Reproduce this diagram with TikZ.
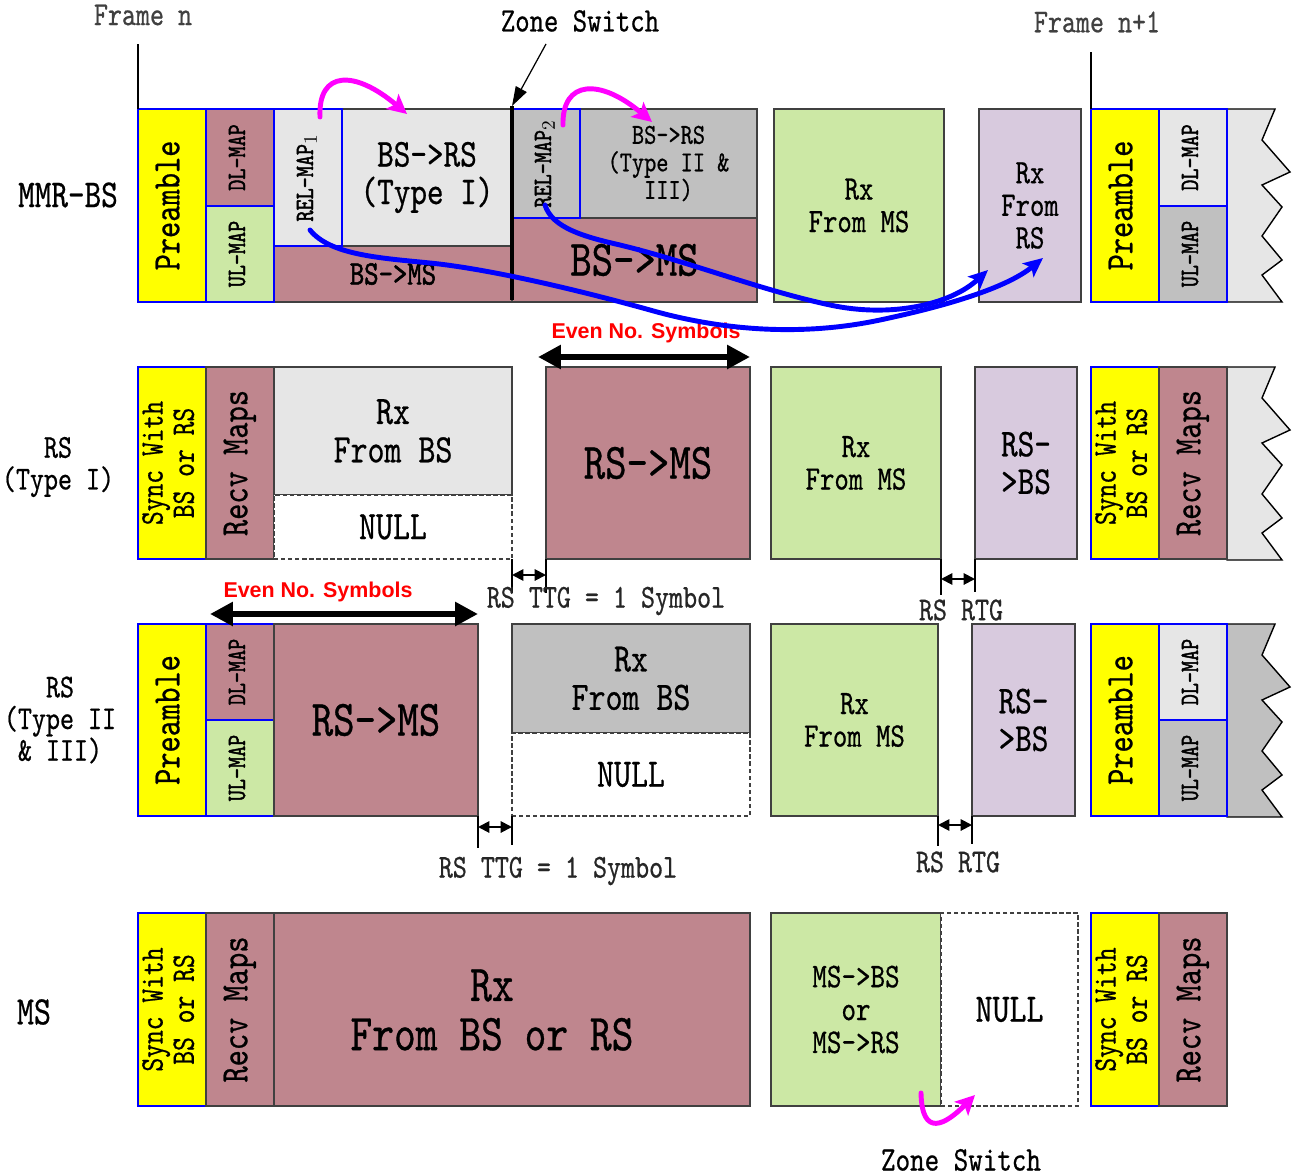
\documentclass[tikz,border=0pt]{standalone}
\usepackage{fontspec}
\usepackage{graphicx}
\setmainfont{lmmono10-regular.otf}[FakeStretch=0.8,FakeBold=0.6]
\newfontfamily\heavy{lmmono10-regular.otf}[FakeStretch=0.8,FakeBold=1.6]
\newfontfamily\arialfont{Liberation Sans}
\usetikzlibrary{arrows.meta}
\definecolor{mauve}{RGB}{191,134,142}
\definecolor{lgreen}{RGB}{204,232,165}
\definecolor{lgray}{RGB}{230,230,230}
\definecolor{mgray}{RGB}{192,192,192}
\definecolor{lilac}{RGB}{216,202,222}
\definecolor{bord}{RGB}{64,64,64}
\definecolor{yel}{RGB}{255,255,0}
\definecolor{mag}{RGB}{255,0,255}
\definecolor{blu}{RGB}{0,0,255}
\newcommand\fz[1]{\fontsize{#1}{\fpeval{0.95*#1}}\selectfont}
\newcommand\vt[1]{\rotatebox{90}{\begin{tabular}{@{}c@{}}#1\end{tabular}}}
\newcommand\bx[7]{\node[box,#6,minimum width={(#4-#2)*0.02cm},minimum height={(#5-#3)*0.02cm}] (#1) at ({(#2+#4)/2},{(#3+#5)/2}) {#7};}
\newcommand\zig[2]{\draw[fill=#2,draw=black,line width=0.8pt] (1227,#1) -- (1275,#1) -- (1262,#1+31) -- (1290,#1+63) -- (1262,#1+76) -- (1282,#1+98) -- (1262,#1+127) -- (1282,#1+151) -- (1262,#1+166) -- (1282,#1+193) -- (1227,#1+193) -- cycle;}
\begin{document}
\begin{tikzpicture}[x=0.02cm,y=-0.02cm,
  box/.style={draw=bord,line width=0.6pt,inner sep=0pt,outer sep=0pt,align=center,text=black},
  bl/.style={draw=blu},
  nul/.style={draw=bord,dash pattern=on 2.5pt off 1.5pt,fill=white},
  lab/.style={inner sep=0pt,align=center,text=black},
  even/.style={inner sep=0pt,text=red,font=\arialfont\bfseries\fontsize{12.2}{12.2}\selectfont},
  bigdbl/.style={line width=3.5pt,{Triangle[length=13pt,width=13pt]}-{Triangle[length=13pt,width=13pt]}},
  smalldbl/.style={line width=1.1pt,{Triangle[length=6.5pt,width=6.5pt]}-{Triangle[length=6.5pt,width=6.5pt]}},
  tick/.style={line width=0.8pt,black},
  magarrow/.style={mag,line width=2.8pt,line cap=round,-{Stealth[length=11pt,width=11pt,inset=2.5pt]}},
  bluearrow/.style={blu,line width=2.8pt,line cap=round,-{Stealth[length=11pt,width=10pt,inset=2.5pt]}}]
\fill[white] (0,0) rectangle (1292,1176);
\useasboundingbox (0,0) rectangle (1292,1176);

% ---------- labels on the left ----------
\node[lab,font=\fz{22.5}] (lmmr) at (68,195) {MMR-BS};
\node[lab,font=\fz{19}] (lrs1) at (58,467) {RS\\(Type I)};
\node[lab,font=\fz{19}] (lrs2) at (60,720) {RS\\(Type II\\\& III)};
\node[lab,font=\fz{23}] (lms) at (34,1012) {MS};

% ---------- row 1: MMR-BS ----------
\bx{bsms1}{274}{246}{512}{302}{fill=mauve,font=\heavy\fz{19.5}}{BS->MS}
\bx{bsrs1}{342}{109}{512}{246}{fill=lgray,font=\fz{22.5}}{BS->RS\\(Type I)}
\bx{bsmsb}{512}{218}{757}{302}{fill=mauve,font=\fz{29}}{BS->MS}
\bx{bsrs2}{580}{109}{757}{218}{fill=mgray,font=\fz{16.5}}{BS->RS\\(Type II \&\\III)}
\bx{pre1}{138}{109}{206}{302}{fill=yel,bl,font=\fz{22}}{\vt{Preamble}}
\bx{dl1}{206}{109}{274}{206}{fill=mauve,bl,font=\heavy\fz{15}}{\vt{DL-MAP}}
\bx{ul1}{206}{206}{274}{302}{fill=lgreen,bl,font=\heavy\fz{15}}{\vt{UL-MAP}}
\bx{rel1}{274}{109}{342}{246}{fill=lgray,bl,font=\heavy\fz{15}}{\vt{REL-MAP$_1$}}
\bx{rel2}{512}{109}{580}{218}{fill=mgray,bl,font=\heavy\fz{15}}{\vt{REL-MAP$_2$}}
\bx{rxms1}{774}{109}{944}{302}{fill=lgreen,font=\fz{19.5}}{Rx\\From MS}
\bx{rxrs1}{979}{109}{1081}{302}{fill=lilac,font=\fz{19.5}}{Rx\\From\\RS}
\zig{109}{lgray}
\bx{pre1r}{1091}{109}{1159}{302}{fill=yel,bl,font=\fz{22}}{\vt{Preamble}}
\bx{dl1r}{1159}{109}{1227}{206}{fill=lgray,bl,font=\heavy\fz{15}}{\vt{DL-MAP}}
\bx{ul1r}{1159}{206}{1227}{302}{fill=mgray,bl,font=\heavy\fz{15}}{\vt{UL-MAP}}

% frame markers
\node[lab,text=black!75,font=\fz{19}] (fn) at (143,15) {Frame n};
\node[lab,text=black!75,font=\fz{19}] (fn1) at (1097,22) {Frame n+1};
\draw[tick] (pre1.north west) -- ++(0,-65);
\draw[tick] (pre1r.north west) -- ++(0,-57);

% zone switch (top)
\node[lab,font=\fz{19.5}] (zst) at (580,21) {Zone Switch};
\coordinate (zs) at (512,106);
\coordinate (zsb) at (512,300);
\coordinate (zsa) at (546,44);
\draw[line width=2.8pt] (zs) -- (zsb);
\draw[line width=0.7pt,-{Triangle[length=11pt,width=7pt]}] (zsa) -- (zs);

% ---------- row 2: RS (Type I) ----------
\bx{sy2}{138}{367}{206}{559}{fill=yel,bl,font=\fz{18.7}}{\vt{Sync With\\BS or RS}}
\bx{rm2}{206}{367}{274}{559}{fill=mauve,font=\fz{22}}{\vt{Recv Maps}}
\bx{rxbs2}{274}{367}{512}{495}{fill=lgray,font=\fz{23}}{Rx\\From BS}
\bx{nul2}{274}{495}{512}{559}{nul,font=\fz{23}}{NULL}
\bx{rsms2}{546}{367}{750}{559}{fill=mauve,font=\fz{29}}{RS->MS}
\bx{rxms2}{771}{367}{941}{559}{fill=lgreen,font=\fz{19.5}}{Rx\\From MS}
\bx{rsbs2}{975}{367}{1077}{559}{fill=lilac,font=\fz{22.5}}{RS-\\>BS}
\zig{367}{lgray}
\bx{sy2r}{1091}{367}{1159}{559}{fill=yel,bl,font=\fz{18.7}}{\vt{Sync With\\BS or RS}}
\bx{rm2r}{1159}{367}{1227}{559}{fill=mauve,font=\fz{22}}{\vt{Recv Maps}}

% ---------- row 3: RS (Type II & III) ----------
\bx{pre3}{138}{624}{206}{816}{fill=yel,bl,font=\fz{22}}{\vt{Preamble}}
\bx{dl3}{206}{624}{274}{720}{fill=mauve,bl,font=\heavy\fz{15}}{\vt{DL-MAP}}
\bx{ul3}{206}{720}{274}{816}{fill=lgreen,bl,font=\heavy\fz{15}}{\vt{UL-MAP}}
\bx{rsms3}{274}{624}{478}{816}{fill=mauve,font=\fz{29}}{RS->MS}
\bx{rxbs3}{512}{624}{750}{733}{fill=mgray,font=\fz{23}}{Rx\\From BS}
\bx{nul3}{512}{733}{750}{816}{nul,font=\fz{23}}{NULL}
\bx{rxms3}{771}{624}{938}{816}{fill=lgreen,font=\fz{19.5}}{Rx\\From MS}
\bx{rsbs3}{972}{624}{1075}{816}{fill=lilac,font=\fz{22.5}}{RS-\\>BS}
\zig{624}{mgray}
\bx{pre3r}{1091}{624}{1159}{816}{fill=yel,bl,font=\fz{22}}{\vt{Preamble}}
\bx{dl3r}{1159}{624}{1227}{720}{fill=lgray,bl,font=\heavy\fz{15}}{\vt{DL-MAP}}
\bx{ul3r}{1159}{720}{1227}{816}{fill=mgray,bl,font=\heavy\fz{15}}{\vt{UL-MAP}}

% ---------- row 4: MS ----------
\bx{sy4}{138}{913}{206}{1106}{fill=yel,bl,font=\fz{18.7}}{\vt{Sync With\\BS or RS}}
\bx{rm4}{206}{913}{274}{1106}{fill=mauve,font=\fz{22}}{\vt{Recv Maps}}
\bx{rx4}{274}{913}{750}{1106}{fill=mauve}{}
\node[lab,font=\fz{29.5}] (rx4t) at (492,1010) {Rx\\From BS or RS};
\bx{ms4}{771}{913}{941}{1106}{fill=lgreen,font=\fz{19.7}}{MS->BS\\or\\MS->RS}
\bx{nul4}{941}{913}{1078}{1106}{nul,font=\fz{23}}{NULL}
\bx{sy4r}{1091}{913}{1159}{1106}{fill=yel,bl,font=\fz{18.7}}{\vt{Sync With\\BS or RS}}
\bx{rm4r}{1159}{913}{1227}{1106}{fill=mauve,font=\fz{22}}{\vt{Recv Maps}}

% ---------- even no. symbols ----------
\node[even] (ev2) at (646,333) {Even No. Symbols};
\coordinate (e2a) at (538,357);
\coordinate (e2b) at (750,357);
\draw[bigdbl] (e2a) -- (e2b);
\node[even] (ev3) at (318,592) {Even No. Symbols};
\coordinate (e3a) at (210,614);
\coordinate (e3b) at (478,614);
\draw[bigdbl] (e3a) -- (e3b);

% ---------- TTG / RTG markers ----------
\draw[tick] (nul2.south east) -- ++(0,34);
\draw[tick] (rsms2.south west) -- ++(0,34);
\coordinate (t2a) at (512,575);
\coordinate (t2b) at (546,575);
\draw[smalldbl] (t2a) -- (t2b);
\node[lab,text=black!85,font=\fz{19}] (ttg2) at (606,601) {RS TTG = 1 Symbol};

\draw[tick] (rxms2.south east) -- ++(0,36);
\draw[tick] (rsbs2.south west) -- ++(0,33);
\coordinate (r2a) at (941,579);
\coordinate (r2b) at (975,579);
\draw[smalldbl] (r2a) -- (r2b);
\node[lab,text=black!85,font=\fz{19}] (rtg2) at (961,610) {RS RTG};

\draw[tick] (rsms3.south east) -- ++(0,32);
\draw[tick] (nul3.south west) -- ++(0,29);
\coordinate (t3a) at (478,827);
\coordinate (t3b) at (512,827);
\draw[smalldbl] (t3a) -- (t3b);
\node[lab,text=black!85,font=\fz{19}] (ttg3) at (558,871) {RS TTG = 1 Symbol};

\draw[tick] (rxms3.south east) -- ++(0,30);
\draw[tick] (rsbs3.south west) -- ++(0,28);
\coordinate (r3a) at (938,825);
\coordinate (r3b) at (972,825);
\draw[smalldbl] (r3a) -- (r3b);
\node[lab,text=black!85,font=\fz{19}] (rtg3) at (958,862) {RS RTG};

% ---------- magenta arrows ----------
\coordinate (m1s) at (320,117);
\coordinate (m1e) at (407,114);
\draw[magarrow] (m1s) .. controls (318,70) and (355,70) .. (m1e);
\coordinate (m2s) at (563,125);
\coordinate (m2e) at (652,122);
\draw[magarrow] (m2s) .. controls (562,80) and (600,78) .. (m2e);
\coordinate (m3s) at (921,1093);
\coordinate (m3e) at (975,1095);
\draw[magarrow] (m3s) .. controls (922,1138) and (945,1125) .. (m3e);
\node[lab,font=\fz{19.7}] (zsb2) at (961,1160) {Zone Switch};

% ---------- blue arrows ----------
\coordinate (b1s) at (310,230);
\coordinate (b1e) at (1043,258);
\draw[bluearrow] (b1s) .. controls (330,255) and (380,258) .. (430,263)
  .. controls (480,268) and (560,285) .. (650,310)
  .. controls (720,330) and (800,337) .. (880,320)
  .. controls (960,303) and (1010,285) .. (b1e);
\coordinate (b2s) at (545,205);
\coordinate (b2e) at (988,270);
\draw[bluearrow] (b2s) .. controls (552,228) and (585,237) .. (620,245)
  .. controls (690,262) and (760,290) .. (830,305)
  .. controls (890,318) and (950,305) .. (b2e);
\end{tikzpicture}
\end{document}
